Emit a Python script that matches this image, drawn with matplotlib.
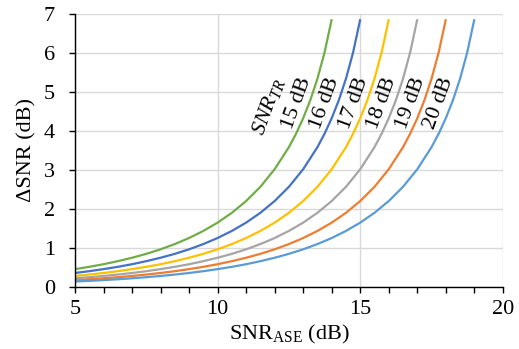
import matplotlib
matplotlib.use("Agg")
import matplotlib.pyplot as plt
from matplotlib.ticker import MultipleLocator

plt.rcParams['font.family'] = ['Liberation Serif', 'DejaVu Serif']
plt.rcParams['mathtext.fontset'] = 'custom'
plt.rcParams['mathtext.rm'] = 'Liberation Serif'
plt.rcParams['mathtext.it'] = 'Liberation Serif:italic'

snr_tr = [15, 16, 17, 18, 19, 20]
colors = ['#70AD47', '#4472C4', '#FFC000', '#A5A5A5', '#ED7D31', '#5B9BD5']
labels = ['15 dB', '16 dB', '17 dB', '18 dB', '19 dB', '20 dB']

# Values (SNR_ASE in dB, ΔSNR in dB)
x_20 = [5, 5.5, 6, 6.5, 7, 7.5, 8, 8.5, 9, 9.5, 10, 10.5, 11, 11.5, 12, 12.5,
        13, 13.5, 14, 14.5, 15, 15.5, 16, 16.5, 17, 17.5, 17.75, 18, 18.25,
        18.5, 18.75, 19]
d_20 = [0.14, 0.157, 0.176, 0.198, 0.223, 0.251, 0.283, 0.319, 0.359, 0.405,
        0.458, 0.517, 0.584, 0.662, 0.750, 0.850, 0.966, 1.101, 1.256, 1.438,
        1.651, 1.903, 2.205, 2.570, 3.021, 3.588, 3.933, 4.330, 4.793, 5.345,
        6.019, 6.867]
x_19 = [5, 5.5, 6, 6.5, 7, 7.5, 8, 8.5, 9, 9.5, 10, 10.5, 11, 11.5, 12, 12.5,
        13, 13.5, 14, 14.5, 15, 15.5, 16, 16.5, 16.75, 17, 17.25, 17.5, 17.75, 18]
d_19 = [0.176, 0.198, 0.223, 0.251, 0.283, 0.319, 0.359, 0.405, 0.458, 0.517,
        0.584, 0.662, 0.750, 0.850, 0.966, 1.101, 1.256, 1.438, 1.651, 1.903,
        2.205, 2.570, 3.021, 3.588, 3.933, 4.330, 4.793, 5.345, 6.019, 6.867]
x_18 = [5, 5.5, 6, 6.5, 7, 7.5, 8, 8.5, 9, 9.5, 10, 10.5, 11, 11.5, 12, 12.5,
        13, 13.5, 14, 14.5, 15, 15.5, 15.75, 16, 16.25, 16.5, 16.75, 17]
d_18 = [0.223, 0.251, 0.283, 0.319, 0.359, 0.405, 0.458, 0.517, 0.584, 0.662,
        0.750, 0.850, 0.966, 1.101, 1.256, 1.438, 1.651, 1.903, 2.205, 2.570,
        3.021, 3.588, 3.933, 4.330, 4.793, 5.345, 6.019, 6.867]
x_17 = [5, 5.5, 6, 6.5, 7, 7.5, 8, 8.5, 9, 9.5, 10, 10.5, 11, 11.5, 12, 12.5,
        13, 13.5, 14, 14.5, 14.75, 15, 15.25, 15.5, 15.75, 16]
d_17 = [0.283, 0.319, 0.359, 0.405, 0.458, 0.517, 0.584, 0.662, 0.750, 0.850,
        0.966, 1.101, 1.256, 1.438, 1.651, 1.903, 2.205, 2.570, 3.021, 3.588,
        3.933, 4.330, 4.793, 5.345, 6.019, 6.867]
x_16 = [5, 5.5, 6, 6.5, 7, 7.5, 8, 8.5, 9, 9.5, 10, 10.5, 11, 11.5, 12, 12.5,
        13, 13.5, 13.75, 14, 14.25, 14.5, 14.75, 15]
d_16 = [0.359, 0.405, 0.458, 0.517, 0.584, 0.662, 0.750, 0.850, 0.966, 1.101,
        1.256, 1.438, 1.651, 1.903, 2.205, 2.570, 3.021, 3.588, 3.933, 4.330,
        4.793, 5.345, 6.019, 6.867]
x_15 = [5, 5.5, 6, 6.5, 7, 7.5, 8, 8.5, 9, 9.5, 10, 10.5, 11, 11.5, 12, 12.5,
        12.75, 13, 13.25, 13.5, 13.75, 14]
d_15 = [0.458, 0.517, 0.584, 0.662, 0.750, 0.850, 0.966, 1.101, 1.256, 1.438,
        1.651, 1.903, 2.205, 2.570, 3.021, 3.588, 3.933, 4.330, 4.793, 5.345,
        6.019, 6.867]

xs = [x_15, x_16, x_17, x_18, x_19, x_20]
ds = [d_15, d_16, d_17, d_18, d_19, d_20]

FS = 16

fig = plt.figure(figsize=(5.19, 3.49), dpi=100)
ax = fig.add_axes([0.1445, 0.1777, 0.969 - 0.1445, 0.9599 - 0.1777])

for x, d, c in zip(xs, ds, colors):
    ax.plot(x, d, color=c, lw=1.6, solid_capstyle='butt')

ax.set_xlim(5, 20)
ax.set_ylim(0, 7)
ax.xaxis.set_major_locator(MultipleLocator(5))
ax.xaxis.set_minor_locator(MultipleLocator(1))
ax.yaxis.set_major_locator(MultipleLocator(1))
ax.grid(True, which='major', color='#D9D9D9', lw=1)
ax.set_axisbelow(True)
for s in ['top', 'right']:
    ax.spines[s].set_visible(False)
for s in ['left', 'bottom']:
    ax.spines[s].set_color('black')
    ax.spines[s].set_linewidth(1)
ax.tick_params(axis='both', which='major', direction='out', length=4.5,
               width=1, labelsize=FS, color='black')
ax.tick_params(axis='x', which='minor', direction='out', length=4.5, width=1)
ax.tick_params(axis='x', which='major', pad=5)
ax.tick_params(axis='y', which='major', pad=10)

ax.set_xlabel(r'SNR$_{\mathrm{ASE}}$ (dB)', fontsize=FS, labelpad=3)
ax.set_ylabel('ΔSNR (dB)', fontsize=FS, labelpad=5)

# curve labels
label_x = [12.79, 13.77, 14.79, 15.77, 16.79, 17.77]
for lx, t in zip(label_x, labels):
    ax.text(lx, 4.72, t, rotation=70, ha='center', va='center', fontsize=FS)
ax.text(11.77, 4.62, r'$SNR_{TR}$', rotation=70, ha='center', va='center',
        fontsize=FS)

fig.savefig('out.png', dpi=100)
